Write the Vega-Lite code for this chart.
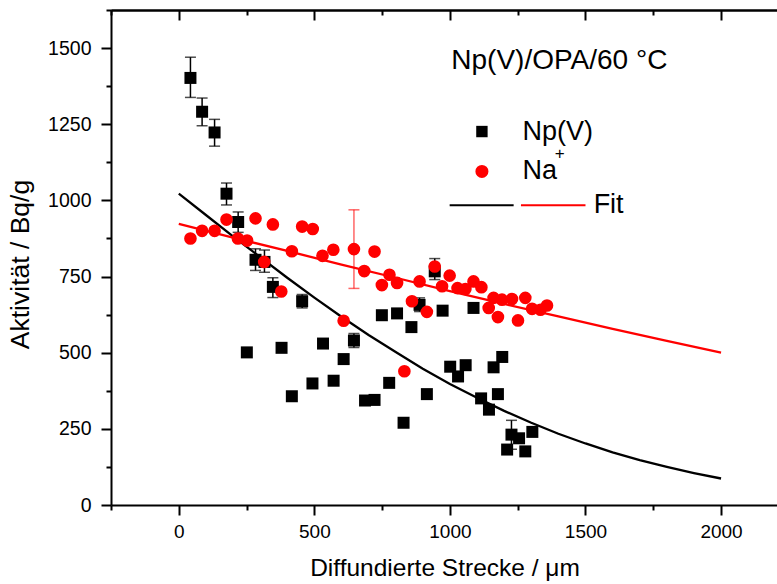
{
  "$schema": "https://vega.github.io/schema/vega-lite/v6.json",
  "width": 667,
  "height": 495,
  "autosize": {"type": "none"},
  "padding": {"left": 111, "top": 10, "right": 0, "bottom": 79},
  "background": "white",
  "config": {"view": {"stroke": null}, "font": "Liberation Sans"},
  "datasets": {
    "one": [{}],
    "np": [
      {"x": 43, "y": 1402}, {"x": 86, "y": 1291}, {"x": 132, "y": 1223}, {"x": 176, "y": 1022},
      {"x": 219, "y": 929}, {"x": 283, "y": 805}, {"x": 316, "y": 798}, {"x": 347, "y": 716},
      {"x": 455, "y": 669}, {"x": 251, "y": 501}, {"x": 379, "y": 516}, {"x": 417, "y": 357},
      {"x": 493, "y": 399}, {"x": 532, "y": 530}, {"x": 571, "y": 408}, {"x": 608, "y": 479},
      {"x": 646, "y": 540}, {"x": 687, "y": 343}, {"x": 722, "y": 345}, {"x": 749, "y": 623},
      {"x": 776, "y": 401}, {"x": 805, "y": 629}, {"x": 829, "y": 270}, {"x": 858, "y": 584},
      {"x": 888, "y": 657}, {"x": 915, "y": 364}, {"x": 944, "y": 767}, {"x": 973, "y": 638},
      {"x": 1001, "y": 454}, {"x": 1030, "y": 422}, {"x": 1058, "y": 459}, {"x": 1087, "y": 647},
      {"x": 1115, "y": 350}, {"x": 1144, "y": 313}, {"x": 1161, "y": 452}, {"x": 1177, "y": 364},
      {"x": 1193, "y": 486}, {"x": 1211, "y": 182}, {"x": 1227, "y": 231}, {"x": 1255, "y": 219},
      {"x": 1278, "y": 176}, {"x": 1304, "y": 240}
    ],
    "nperr": [
      {"x": 43, "lo": 1338, "hi": 1470}, {"x": 86, "lo": 1245, "hi": 1336}, {"x": 132, "lo": 1178, "hi": 1266},
      {"x": 176, "lo": 985, "hi": 1057}, {"x": 219, "lo": 895, "hi": 962}, {"x": 283, "lo": 770, "hi": 841},
      {"x": 316, "lo": 764, "hi": 837}, {"x": 347, "lo": 681, "hi": 746}, {"x": 455, "lo": 647, "hi": 691},
      {"x": 608, "lo": 465, "hi": 493}, {"x": 646, "lo": 517, "hi": 563}, {"x": 888, "lo": 635, "hi": 680},
      {"x": 944, "lo": 740, "hi": 809}, {"x": 1087, "lo": 632, "hi": 662}, {"x": 1227, "lo": 183, "hi": 278}
    ],
    "na": [
      {"x": 43, "y": 875}, {"x": 86, "y": 900}, {"x": 132, "y": 900}, {"x": 176, "y": 937},
      {"x": 218, "y": 875}, {"x": 252, "y": 868}, {"x": 283, "y": 941}, {"x": 315, "y": 798},
      {"x": 347, "y": 921}, {"x": 378, "y": 701}, {"x": 417, "y": 833}, {"x": 455, "y": 914},
      {"x": 494, "y": 906}, {"x": 530, "y": 818}, {"x": 570, "y": 838}, {"x": 608, "y": 605},
      {"x": 646, "y": 840}, {"x": 684, "y": 768}, {"x": 722, "y": 832}, {"x": 749, "y": 722},
      {"x": 777, "y": 756}, {"x": 805, "y": 729}, {"x": 832, "y": 439}, {"x": 860, "y": 669},
      {"x": 888, "y": 734}, {"x": 915, "y": 634}, {"x": 944, "y": 783}, {"x": 971, "y": 718},
      {"x": 999, "y": 753}, {"x": 1028, "y": 712}, {"x": 1057, "y": 709}, {"x": 1087, "y": 734},
      {"x": 1116, "y": 715}, {"x": 1143, "y": 647}, {"x": 1161, "y": 680}, {"x": 1177, "y": 617},
      {"x": 1192, "y": 674}, {"x": 1229, "y": 676}, {"x": 1251, "y": 606}, {"x": 1278, "y": 680},
      {"x": 1303, "y": 644}, {"x": 1334, "y": 641}, {"x": 1358, "y": 655}
    ],
    "naerr": [{"x": 646, "lo": 711, "hi": 969}],
    "fitnp": [
      {"x": 0, "y": 1022}, {"x": 100, "y": 952}, {"x": 200, "y": 882}, {"x": 300, "y": 814},
      {"x": 400, "y": 746}, {"x": 500, "y": 681}, {"x": 600, "y": 618}, {"x": 700, "y": 558},
      {"x": 800, "y": 502}, {"x": 900, "y": 447}, {"x": 1000, "y": 397}, {"x": 1100, "y": 352},
      {"x": 1200, "y": 309}, {"x": 1300, "y": 270}, {"x": 1400, "y": 234}, {"x": 1500, "y": 202},
      {"x": 1600, "y": 173}, {"x": 1700, "y": 147}, {"x": 1800, "y": 125}, {"x": 1900, "y": 105},
      {"x": 2000, "y": 87}
    ],
    "fitna": [
      {"x": 0, "y": 923}, {"x": 200, "y": 878}, {"x": 400, "y": 834}, {"x": 600, "y": 789},
      {"x": 800, "y": 746}, {"x": 1000, "y": 702}, {"x": 1200, "y": 660}, {"x": 1400, "y": 619},
      {"x": 1600, "y": 578}, {"x": 1800, "y": 539}, {"x": 2000, "y": 500}
    ]
  },
  "resolve": {"axis": {"x": "independent", "y": "independent"}},
  "layer": [
    {
      "data": {"name": "fitnp"},
      "mark": {"type": "line", "color": "black", "strokeWidth": 2.3},
      "encoding": {
        "x": {"field": "x", "type": "quantitative",
          "scale": {"domain": [-250, 2210], "nice": false, "zero": false},
          "axis": {"orient": "bottom", "values": [-250, 0, 250, 500, 750, 1000, 1250, 1500, 1750, 2000],
            "format": "d", "labelExpr": "datum.value % 500 === 0 ? datum.label : ''",
            "tickSize": {"condition": {"test": "datum.value % 500 === 0", "value": 10}, "value": 5},
            "domainColor": "black", "domainWidth": 2, "tickColor": "black", "tickWidth": 2,
            "labelFont": "Liberation Sans", "labelFontSize": 19, "labelColor": "black", "labelPadding": 7,
            "labelFlush": false, "labelOverlap": false, "grid": false,
            "title": "Diffundierte Strecke / μm", "titleFont": "Liberation Sans", "titleFontSize": 24.5,
            "titleFontWeight": "normal", "titleColor": "black", "titlePadding": 15}},
        "y": {"field": "y", "type": "quantitative",
          "scale": {"domain": [0, 1625], "nice": false, "zero": false},
          "axis": {"orient": "left", "values": [0, 125, 250, 375, 500, 625, 750, 875, 1000, 1125, 1250, 1375, 1500, 1625],
            "format": "d", "labelExpr": "datum.value % 250 === 0 ? datum.label : ''",
            "tickSize": {"condition": {"test": "datum.value % 250 === 0", "value": 10}, "value": 5},
            "domainColor": "black", "domainWidth": 2, "tickColor": "black", "tickWidth": 2,
            "labelFont": "Liberation Sans", "labelFontSize": 19.5, "labelColor": "black", "labelPadding": 10,
            "labelFlush": false, "labelOverlap": false, "grid": false,
            "title": "Aktivität / Bq/g", "titleFont": "Liberation Sans", "titleFontSize": 26.5,
            "titleFontWeight": "normal", "titleColor": "black", "titlePadding": 13, "titleY": 254}}
      }
    },
    {
      "data": {"name": "fitna"},
      "mark": {"type": "line", "color": "#ff0000", "strokeWidth": 2.3},
      "encoding": {
        "x": {"field": "x", "type": "quantitative",
          "scale": {"domain": [-250, 2210], "nice": false, "zero": false},
          "axis": {"orient": "top", "values": [0, 500, 1000, 1500, 2000],
            "labels": false, "title": null, "grid": false, "tickSize": -10,
            "domainColor": "black", "domainWidth": 2, "tickColor": "black", "tickWidth": 2}},
        "y": {"field": "y", "type": "quantitative",
          "scale": {"domain": [0, 1625], "nice": false, "zero": false}, "axis": null}
      }
    },
    {
      "data": {"name": "nperr"},
      "mark": {"type": "rule", "color": "black", "strokeWidth": 1.5},
      "encoding": {
        "x": {"field": "x", "type": "quantitative", "scale": {"domain": [-250, 2210], "nice": false, "zero": false},
          "axis": {"orient": "top", "values": [-250, 250, 750, 1250, 1750],
            "labels": false, "title": null, "grid": false, "tickSize": -5,
            "domainColor": "black", "domainWidth": 2, "tickColor": "black", "tickWidth": 2}},
        "y": {"field": "lo", "type": "quantitative", "scale": {"domain": [0, 1625], "nice": false, "zero": false}, "axis": null},
        "y2": {"field": "hi"}
      }
    },
    {
      "data": {"name": "nperr"},
      "mark": {"type": "tick", "orient": "horizontal", "color": "black", "size": 11, "thickness": 1.5},
      "encoding": {
        "x": {"field": "x", "type": "quantitative", "scale": {"domain": [-250, 2210], "nice": false, "zero": false}, "axis": null},
        "y": {"field": "lo", "type": "quantitative", "scale": {"domain": [0, 1625], "nice": false, "zero": false}, "axis": null}
      }
    },
    {
      "data": {"name": "nperr"},
      "mark": {"type": "tick", "orient": "horizontal", "color": "black", "size": 11, "thickness": 1.5},
      "encoding": {
        "x": {"field": "x", "type": "quantitative", "scale": {"domain": [-250, 2210], "nice": false, "zero": false}, "axis": null},
        "y": {"field": "hi", "type": "quantitative", "scale": {"domain": [0, 1625], "nice": false, "zero": false}, "axis": null}
      }
    },
    {
      "data": {"name": "np"},
      "mark": {"type": "point", "shape": "square", "filled": true, "color": "black", "size": 144, "opacity": 1},
      "encoding": {
        "x": {"field": "x", "type": "quantitative", "scale": {"domain": [-250, 2210], "nice": false, "zero": false}, "axis": null},
        "y": {"field": "y", "type": "quantitative", "scale": {"domain": [0, 1625], "nice": false, "zero": false}, "axis": null}
      }
    },
    {
      "data": {"name": "na"},
      "mark": {"type": "point", "shape": "circle", "filled": true, "color": "#ff0000", "size": 160, "opacity": 1},
      "encoding": {
        "x": {"field": "x", "type": "quantitative", "scale": {"domain": [-250, 2210], "nice": false, "zero": false}, "axis": null},
        "y": {"field": "y", "type": "quantitative", "scale": {"domain": [0, 1625], "nice": false, "zero": false}, "axis": null}
      }
    },
    {
      "data": {"name": "naerr"},
      "mark": {"type": "rule", "color": "#ff0000", "strokeWidth": 1.5, "opacity": 0.6},
      "encoding": {
        "x": {"field": "x", "type": "quantitative", "scale": {"domain": [-250, 2210], "nice": false, "zero": false}, "axis": null},
        "y": {"field": "lo", "type": "quantitative", "scale": {"domain": [0, 1625], "nice": false, "zero": false}, "axis": null},
        "y2": {"field": "hi"}
      }
    },
    {
      "data": {"name": "naerr"},
      "mark": {"type": "tick", "orient": "horizontal", "color": "#ff0000", "size": 11, "thickness": 1.5, "opacity": 0.6},
      "encoding": {
        "x": {"field": "x", "type": "quantitative", "scale": {"domain": [-250, 2210], "nice": false, "zero": false}, "axis": null},
        "y": {"field": "lo", "type": "quantitative", "scale": {"domain": [0, 1625], "nice": false, "zero": false}, "axis": null}
      }
    },
    {
      "data": {"name": "naerr"},
      "mark": {"type": "tick", "orient": "horizontal", "color": "#ff0000", "size": 11, "thickness": 1.5, "opacity": 0.6},
      "encoding": {
        "x": {"field": "x", "type": "quantitative", "scale": {"domain": [-250, 2210], "nice": false, "zero": false}, "axis": null},
        "y": {"field": "hi", "type": "quantitative", "scale": {"domain": [0, 1625], "nice": false, "zero": false}, "axis": null}
      }
    },
    {
      "data": {"name": "one"},
      "mark": {"type": "text", "text": "Np(V)/OPA/60 °C", "font": "Liberation Sans", "fontSize": 28, "align": "left", "baseline": "middle", "color": "black"},
      "encoding": {
        "x": {"datum": 1005, "type": "quantitative", "scale": {"domain": [-250, 2210], "nice": false, "zero": false}, "axis": null},
        "y": {"datum": 1456, "type": "quantitative", "scale": {"domain": [0, 1625], "nice": false, "zero": false}, "axis": null}
      }
    },
    {
      "data": {"name": "one"},
      "mark": {"type": "point", "shape": "square", "filled": true, "color": "black", "size": 130, "opacity": 1},
      "encoding": {
        "x": {"datum": 1118, "type": "quantitative", "scale": {"domain": [-250, 2210], "nice": false, "zero": false}, "axis": null},
        "y": {"datum": 1226, "type": "quantitative", "scale": {"domain": [0, 1625], "nice": false, "zero": false}, "axis": null}
      }
    },
    {
      "data": {"name": "one"},
      "mark": {"type": "text", "text": "Np(V)", "font": "Liberation Sans", "fontSize": 27, "align": "left", "baseline": "middle", "color": "black"},
      "encoding": {
        "x": {"datum": 1268, "type": "quantitative", "scale": {"domain": [-250, 2210], "nice": false, "zero": false}, "axis": null},
        "y": {"datum": 1226, "type": "quantitative", "scale": {"domain": [0, 1625], "nice": false, "zero": false}, "axis": null}
      }
    },
    {
      "data": {"name": "one"},
      "mark": {"type": "point", "shape": "circle", "filled": true, "color": "#ff0000", "size": 170, "opacity": 1},
      "encoding": {
        "x": {"datum": 1118, "type": "quantitative", "scale": {"domain": [-250, 2210], "nice": false, "zero": false}, "axis": null},
        "y": {"datum": 1095, "type": "quantitative", "scale": {"domain": [0, 1625], "nice": false, "zero": false}, "axis": null}
      }
    },
    {
      "data": {"name": "one"},
      "mark": {"type": "text", "text": "Na", "font": "Liberation Sans", "fontSize": 27, "align": "left", "baseline": "middle", "color": "black"},
      "encoding": {
        "x": {"datum": 1268, "type": "quantitative", "scale": {"domain": [-250, 2210], "nice": false, "zero": false}, "axis": null},
        "y": {"datum": 1095, "type": "quantitative", "scale": {"domain": [0, 1625], "nice": false, "zero": false}, "axis": null}
      }
    },
    {
      "data": {"name": "one"},
      "mark": {"type": "text", "text": "+", "font": "Liberation Sans", "fontSize": 17, "align": "left", "baseline": "middle", "color": "black"},
      "encoding": {
        "x": {"datum": 1387, "type": "quantitative", "scale": {"domain": [-250, 2210], "nice": false, "zero": false}, "axis": null},
        "y": {"datum": 1153, "type": "quantitative", "scale": {"domain": [0, 1625], "nice": false, "zero": false}, "axis": null}
      }
    },
    {
      "data": {"name": "one"},
      "mark": {"type": "rule", "color": "black", "strokeWidth": 2},
      "encoding": {
        "x": {"datum": 999, "type": "quantitative", "scale": {"domain": [-250, 2210], "nice": false, "zero": false}, "axis": null},
        "x2": {"datum": 1235},
        "y": {"datum": 984, "type": "quantitative", "scale": {"domain": [0, 1625], "nice": false, "zero": false}, "axis": null}
      }
    },
    {
      "data": {"name": "one"},
      "mark": {"type": "rule", "color": "#ff0000", "strokeWidth": 2},
      "encoding": {
        "x": {"datum": 1262, "type": "quantitative", "scale": {"domain": [-250, 2210], "nice": false, "zero": false}, "axis": null},
        "x2": {"datum": 1500},
        "y": {"datum": 984, "type": "quantitative", "scale": {"domain": [0, 1625], "nice": false, "zero": false}, "axis": null}
      }
    },
    {
      "data": {"name": "one"},
      "mark": {"type": "text", "text": "Fit", "font": "Liberation Sans", "fontSize": 27, "align": "left", "baseline": "middle", "color": "black"},
      "encoding": {
        "x": {"datum": 1530, "type": "quantitative", "scale": {"domain": [-250, 2210], "nice": false, "zero": false}, "axis": null},
        "y": {"datum": 984, "type": "quantitative", "scale": {"domain": [0, 1625], "nice": false, "zero": false}, "axis": null}
      }
    }
  ]
}
